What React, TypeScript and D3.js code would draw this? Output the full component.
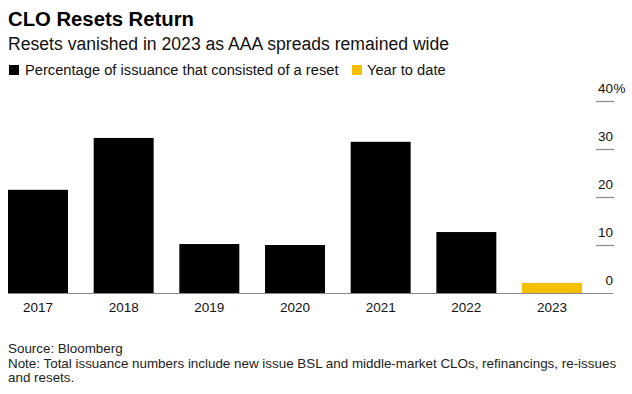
import React from 'react';
import * as d3 from 'd3';

const years = ['2017', '2018', '2019', '2020', '2021', '2022', '2023'];
const resetShare = [21.5, 32.3, 10.2, 10, 31.5, 12.7, 2.1];
const ytdYears = ['2023'];
const yTicks = [0, 10, 20, 30, 40];

const W = 632;
const H = 394;
const FONT = '"Liberation Sans", Arial, Helvetica, sans-serif';

const App = () => {
  const x = d3.scaleBand<string>()
    .domain(years)
    .range([8, 582])
    .paddingInner(0.3)
    .paddingOuter(0);

  const y = d3.scaleLinear()
    .domain([0, 40])
    .range([293, 101]);

  const bars = years.map((yr, i) => ({ yr, v: resetShare[i], ytd: ytdYears.includes(yr) }));

  return (
    <svg width={W} height={H} style={{ position: 'absolute', left: 0, top: 0, background: '#fff' }} fontFamily={FONT}>
      <text x={8} y={26} fontSize={20.3} fontWeight="bold" fill="#000">CLO Resets Return</text>
      <text x={8} y={50} fontSize={17.6} fill="#111">Resets vanished in 2023 as AAA spreads remained wide</text>

      {/* legend */}
      <rect x={9} y={65} width={10} height={10} fill="#000" />
      <text x={25} y={75} fontSize={14.7} fill="#111">Percentage of issuance that consisted of a reset</text>
      <rect x={352} y={65} width={10} height={10} fill="#f5c000" />
      <text x={367} y={75} fontSize={14.7} fill="#111">Year to date</text>

      {/* bars */}
      {bars.map(d => (
        <rect
          key={d.yr}
          x={x(d.yr)}
          y={y(d.v)}
          width={x.bandwidth()}
          height={y(0) - y(d.v)}
          fill={d.ytd ? '#f5c000' : '#000'}
        />
      ))}

      {/* baseline */}
      <line x1={8} x2={613} y1={y(0) + 0.5} y2={y(0) + 0.5} stroke="#888" strokeWidth={1.2} />

      {/* y axis on the right */}
      {yTicks.map(t => (
        <g key={t}>
          {t !== 0 && (
            <line x1={596} x2={614} y1={y(t) + 0.5} y2={y(t) + 0.5} stroke="#888" strokeWidth={1.2} />
          )}
          <text x={613} y={y(t) - 8} fontSize={13.5} fill="#111" textAnchor="end">{t}</text>
          {t === 40 && (
            <text x={613.5} y={y(t) - 8} fontSize={13.5} fill="#111">%</text>
          )}
        </g>
      ))}

      {/* x labels */}
      {years.map(yr => (
        <text key={yr} x={(x(yr) ?? 0) + x.bandwidth() / 2} y={312} fontSize={13.5} fill="#111" textAnchor="middle">{yr}</text>
      ))}

      {/* footer */}
      <text x={8} y={353} fontSize={13.4} fill="#222">Source: Bloomberg</text>
      <text x={8} y={367.5} fontSize={13.4} fill="#222">Note: Total issuance numbers include new issue BSL and middle-market CLOs, refinancings, re-issues</text>
      <text x={8} y={382} fontSize={13.4} fill="#222">and resets.</text>
    </svg>
  );
};

export default App;
